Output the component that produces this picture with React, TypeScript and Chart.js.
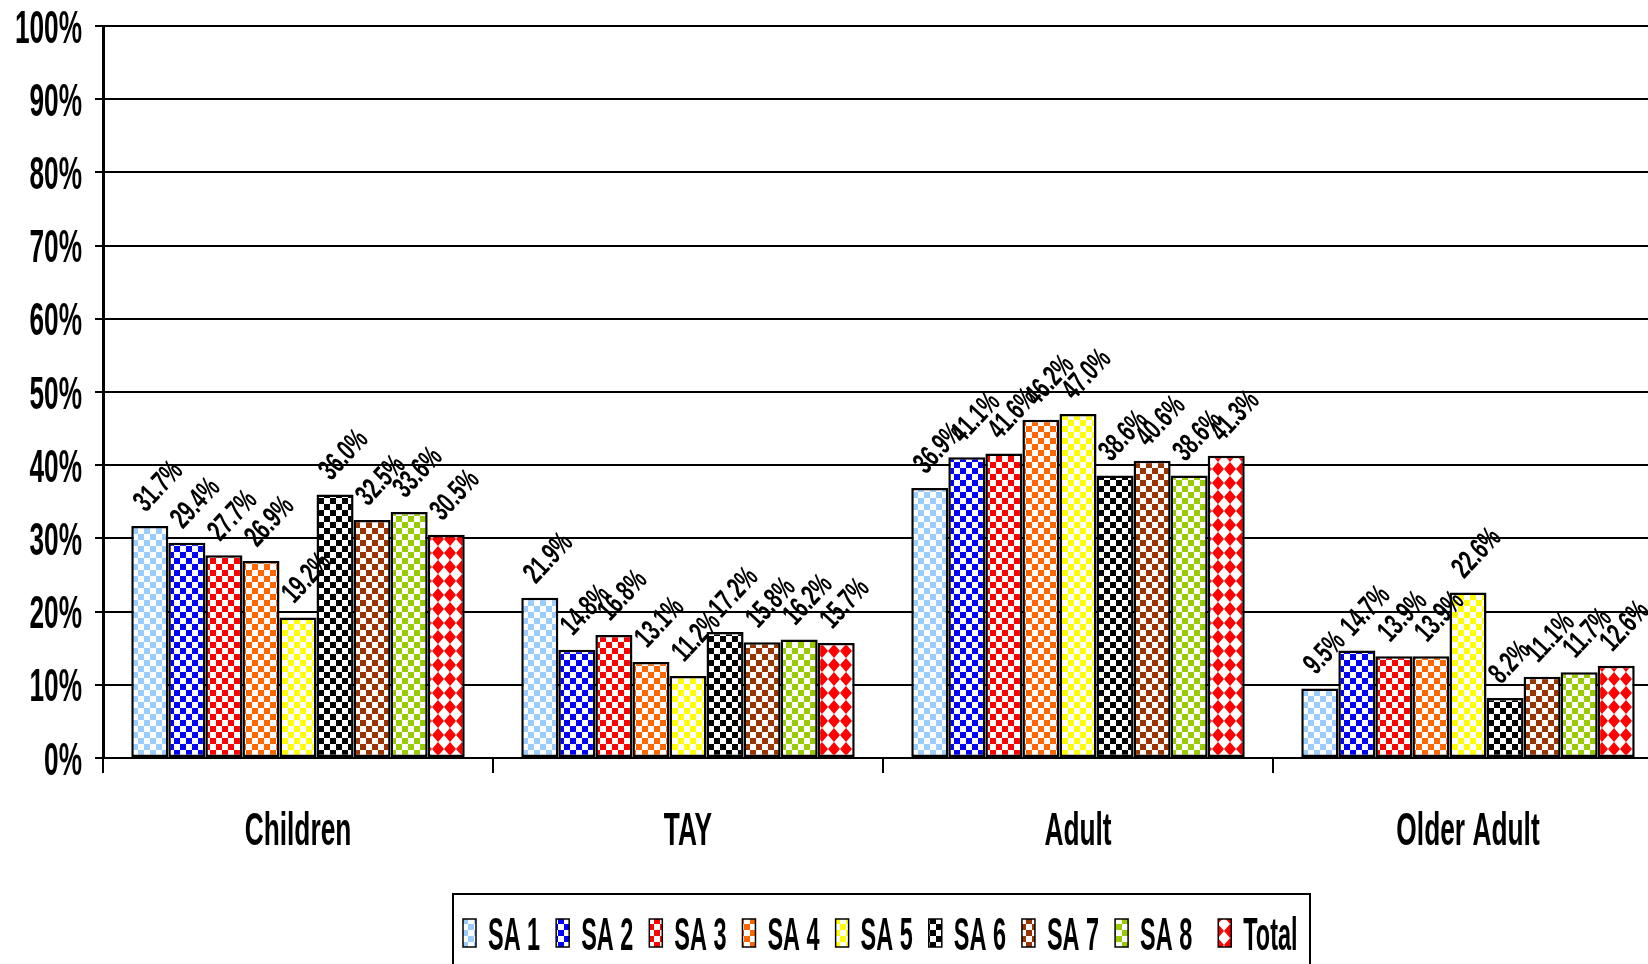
import { useEffect, useRef } from "react";
import { Chart, registerables } from "chart.js";

Chart.register(...registerables);

const categories = ["Children", "TAY", "Adult", "Older Adult"];
const seriesNames = ["SA 1", "SA 2", "SA 3", "SA 4", "SA 5", "SA 6", "SA 7", "SA 8", "Total"];
const sa1 = [31.7, 21.9, 36.9, 9.5];
const sa2 = [29.4, 14.8, 41.1, 14.7];
const sa3 = [27.7, 16.8, 41.6, 13.9];
const sa4 = [26.9, 13.1, 46.2, 13.9];
const sa5 = [19.2, 11.2, 47.0, 22.6];
const sa6 = [36.0, 17.2, 38.6, 8.2];
const sa7 = [32.5, 15.8, 40.6, 11.1];
const sa8 = [33.6, 16.2, 38.6, 11.7];
const total = [30.5, 15.7, 41.3, 12.6];
const seriesValues = [sa1, sa2, sa3, sa4, sa5, sa6, sa7, sa8, total];
const seriesColors = ["#99CCFF", "#0000FF", "#FF0000", "#FF6600", "#FFFF00", "#000000", "#993300", "#99CC00", "#FF0000"];
const yTickValues = [0, 10, 20, 30, 40, 50, 60, 70, 80, 90, 100];

const FONT = '"Liberation Sans", Arial, sans-serif';

function checkerPattern(color: string): CanvasPattern | string {
  const c = document.createElement("canvas");
  c.width = 12;
  c.height = 12;
  const g = c.getContext("2d");
  if (!g) return color;
  g.fillStyle = "#FFFFFF";
  g.fillRect(0, 0, 12, 12);
  g.fillStyle = color;
  g.fillRect(0, 0, 6, 6);
  g.fillRect(6, 6, 6, 6);
  return g.createPattern(c, "repeat") || color;
}

function diamondPattern(color: string): CanvasPattern | string {
  const c = document.createElement("canvas");
  c.width = 12;
  c.height = 14;
  const g = c.getContext("2d");
  if (!g) return color;
  g.fillStyle = "#FFFFFF";
  g.fillRect(0, 0, 12, 14);
  g.fillStyle = color;
  g.beginPath();
  g.moveTo(6, 0);
  g.lineTo(12, 7);
  g.lineTo(6, 14);
  g.lineTo(0, 7);
  g.closePath();
  g.fill();
  return g.createPattern(c, "repeat") || color;
}

function scaledText(
  ctx: CanvasRenderingContext2D,
  text: string,
  x: number,
  y: number,
  size: number,
  sx: number,
  align: CanvasTextAlign
) {
  ctx.save();
  ctx.translate(x, y);
  ctx.scale(sx, 1);
  ctx.font = `bold ${size}px ${FONT}`;
  ctx.fillStyle = "#000000";
  ctx.textAlign = align;
  ctx.textBaseline = "alphabetic";
  ctx.fillText(text, 0, 0);
  ctx.restore();
}

const textPlugin = {
  id: "textPlugin",
  afterDatasetsDraw(chart: any) {
    const ctx: CanvasRenderingContext2D = chart.ctx;
    const yScale = chart.scales.y;
    const xScale = chart.scales.x;

    // y tick labels
    yScale.ticks.forEach((t: any) => {
      const y = yScale.getPixelForValue(t.value);
      scaledText(ctx, `${t.value}%`, 82, y + 16.5, 46, 0.57, "right");
    });

    // category labels
    xScale.getLabels().forEach((lbl: string, i: number) => {
      const x = xScale.getPixelForTick(i);
      scaledText(ctx, lbl, x, 845, 47, 0.56, "center");
    });

    // data labels
    chart.data.datasets.forEach((ds: any, di: number) => {
      const meta = chart.getDatasetMeta(di);
      meta.data.forEach((bar: any, j: number) => {
        const v = ds.data[j] as number;
        ctx.save();
        ctx.translate(bar.x - 4, bar.y - 13);
        ctx.rotate((-47 * Math.PI) / 180);
        ctx.scale(0.66, 1);
        ctx.font = `bold 30px ${FONT}`;
        ctx.fillStyle = "#000000";
        ctx.textAlign = "left";
        ctx.textBaseline = "alphabetic";
        ctx.fillText(`${v.toFixed(1)}%`, 0, 0);
        ctx.restore();
      });
    });

    // legend
    const boxLeft = 453;
    const boxRight = 1310;
    const boxTop = 894;
    ctx.save();
    ctx.strokeStyle = "#000000";
    ctx.lineWidth = 2;
    ctx.strokeRect(boxLeft, boxTop, boxRight - boxLeft, 120);
    ctx.restore();

    let x = 463;
    chart.data.datasets.forEach((ds: any, di: number) => {
      const isLast = di === chart.data.datasets.length - 1;
      if (isLast) x += 10;
      ctx.save();
      ctx.fillStyle = ds.backgroundColor;
      ctx.fillRect(x, 919, 13, 28);
      ctx.strokeStyle = "#000000";
      ctx.lineWidth = 1.5;
      ctx.strokeRect(x, 919, 13, 28);
      ctx.restore();
      ctx.save();
      ctx.font = `bold 46px ${FONT}`;
      const w = ctx.measureText(ds.label).width * 0.51;
      ctx.restore();
      scaledText(ctx, ds.label, x + 25, 950, 46, 0.51, "left");
      x += 25 + w + 16;
    });
  },
};

export default function App() {
  const canvasRef = useRef<HTMLCanvasElement | null>(null);

  useEffect(() => {
    const canvas = canvasRef.current;
    if (!canvas) return;
    const datasets = seriesNames.map((name, i) => ({
      label: name,
      data: seriesValues[i],
      backgroundColor: i === seriesNames.length - 1 ? diamondPattern(seriesColors[i]) : checkerPattern(seriesColors[i]),
      borderColor: "#000000",
      borderWidth: 2.5,
      borderSkipped: false as const,
      barPercentage: 1,
      categoryPercentage: 0.855,
    }));
    const chart = new Chart(canvas, {
      type: "bar",
      data: { labels: categories, datasets },
      options: {
        animation: false,
        responsive: false,
        devicePixelRatio: 1,
        layout: { padding: { left: 95, top: 26, right: 7, bottom: 191 } },
        plugins: { legend: { display: false }, tooltip: { enabled: false } },
        scales: {
          x: {
            ticks: { display: false },
            grid: {
              display: true,
              drawOnChartArea: false,
              drawTicks: true,
              tickLength: 15,
              color: "#000000",
              lineWidth: 2,
            },
            border: { display: true, color: "#000000", width: 2 },
          },
          y: {
            min: 0,
            max: 100,
            afterBuildTicks: (scale: any) => {
              scale.ticks = yTickValues.map((v) => ({ value: v }));
            },
            ticks: { display: false },
            grid: {
              color: "#000000",
              lineWidth: 2,
              drawTicks: true,
              tickLength: 8,
            },
            border: { display: true, color: "#000000", width: 3 },
          },
        },
      },
      plugins: [textPlugin],
    });
    return () => chart.destroy();
  }, []);

  return (
    <div style={{ position: "relative", width: 1670, height: 964, overflow: "hidden" }}>
      <style>{`html,body{margin:0;padding:0;overflow:hidden;background:#fff}`}</style>
      <canvas ref={canvasRef} width={1670} height={964} style={{ display: "block" }} />
    </div>
  );
}
